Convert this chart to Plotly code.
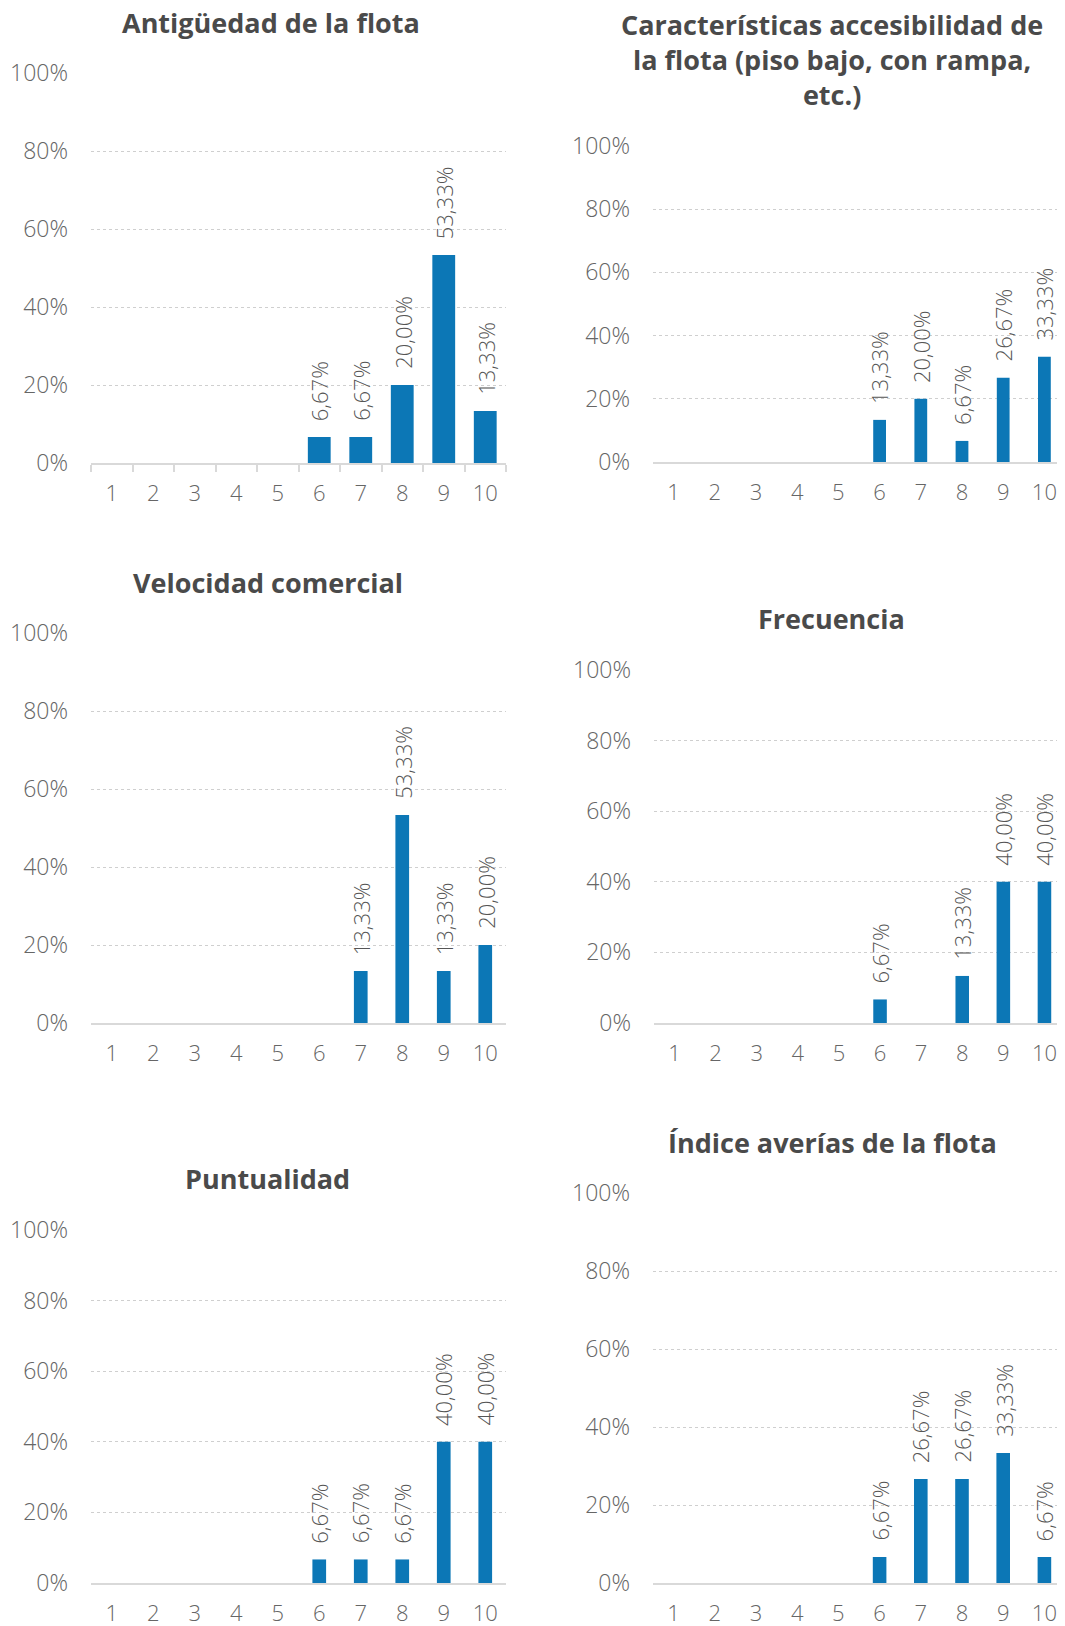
import plotly.graph_objects as go

# ---------------- data ----------------
categories = ["1", "2", "3", "4", "5", "6", "7", "8", "9", "10"]
antiguedad = [0, 0, 0, 0, 0, 6.67, 6.67, 20.00, 53.33, 13.33]
accesibilidad = [0, 0, 0, 0, 0, 13.33, 20.00, 6.67, 26.67, 33.33]
velocidad = [0, 0, 0, 0, 0, 0, 13.33, 53.33, 13.33, 20.00]
frecuencia = [0, 0, 0, 0, 0, 6.67, 0, 13.33, 40.00, 40.00]
puntualidad = [0, 0, 0, 0, 0, 6.67, 6.67, 6.67, 40.00, 40.00]
averias = [0, 0, 0, 0, 0, 6.67, 26.67, 26.67, 33.33, 6.67]

titles = [
    "Antigüedad de la flota",
    "Características accesibilidad de<br>la flota (piso bajo, con rampa,<br>etc.)",
    "Velocidad comercial",
    "Frecuencia",
    "Puntualidad",
    "Índice averías de la flota",
]
series = [antiguedad, accesibilidad, velocidad, frecuencia, puntualidad, averias]
y_ticks = [0, 20, 40, 60, 80, 100]
y_ticklabels = ["0%", "20%", "40%", "60%", "80%", "100%"]

# ---------------- layout (pixel geometry, page coordinates) ----------------
PAGE_OFF = 8                      # default body margin of the page
W, H = 1065 - PAGE_OFF, 1626 - PAGE_OFF
# (x0, x1, y_top(100%), y_bottom(0%), title_x, title_y, bar_width, boundary_ticks)
geom = [
    (91, 506, 73, 463, 271, 22, 0.55, True),
    (653, 1065, 146, 462, 832, 59, 0.31, False),
    (91, 506, 633, 1023, 268, 582, 0.33, False),
    (654, 1065, 670, 1023, 831, 618, 0.33, False),
    (91, 506, 1230, 1583, 267, 1178, 0.33, False),
    (653, 1065, 1193, 1583, 832, 1142, 0.33, False),
]


def fx(px):
    return min(max((px - PAGE_OFF) / W, 0.0), 1.0)


def fy(py):
    return min(max(1 - (py - PAGE_OFF) / H, 0.0), 1.0)


BAR = "#0c77b6"
GRID = "#cfcfcf"
AXIS = "#d9d9d9"
TICK_TXT = "#666666"
LABEL_TXT = "#555555"
TITLE_TXT = "#4a4a4a"
FONT = "Open Sans"

fig = go.Figure()
annotations = []
layout_axes = {}

for i, (vals, title, g) in enumerate(zip(series, titles, geom), start=1):
    x0, x1, yt, yb, tx, ty, bw, bticks = g
    xa = "x" if i == 1 else f"x{i}"
    ya = "y" if i == 1 else f"y{i}"
    fig.add_trace(go.Bar(
        x=categories, y=vals, xaxis=xa, yaxis=ya,
        width=bw, marker=dict(color=BAR, line=dict(width=0)),
        hoverinfo="skip", showlegend=False,
    ))
    for k, v in enumerate(vals):
        if v > 0:
            annotations.append(dict(
                x=k, y=v, xref=xa, yref=ya,
                text=f"{v:.2f}%".replace(".", ","),
                textangle=-90, showarrow=False,
                xanchor="center", yanchor="bottom", yshift=14,
                font=dict(family=FONT, size=22, color=LABEL_TXT, weight=300),
            ))
    annotations.append(dict(
        x=fx(tx), y=fy(ty), xref="paper", yref="paper",
        text=f"<b>{title}</b>", showarrow=False,
        xanchor="center", yanchor="middle", align="center",
        font=dict(family=FONT, size=27, color=TITLE_TXT),
    ))
    xkey = "xaxis" if i == 1 else f"xaxis{i}"
    ykey = "yaxis" if i == 1 else f"yaxis{i}"
    layout_axes[xkey] = dict(
        domain=[fx(x0), fx(x1)], anchor=ya, automargin=False,
        type="category", showgrid=False, zeroline=False,
        showline=True, linecolor=AXIS, linewidth=2,
        ticks="outside" if bticks else "", tickson="boundaries",
        ticklen=7 if bticks else 0, tickcolor=AXIS, tickwidth=2,
        ticklabelstandoff=10,
        tickfont=dict(family=FONT, size=22, color=TICK_TXT, weight=300),
        fixedrange=True,
    )
    layout_axes[ykey] = dict(
        domain=[fy(yb), fy(yt)], anchor=xa, automargin=False,
        range=[0, 100], tickvals=y_ticks, ticktext=y_ticklabels,
        showgrid=True, gridcolor=GRID, griddash="dot", gridwidth=1,
        zeroline=False, showline=False, ticks="",
        ticklabelstandoff=22,
        tickfont=dict(family=FONT, size=23, color=TICK_TXT, weight=300),
        fixedrange=True,
    )

fig.update_layout(
    width=W, height=H,
    margin=dict(l=0, r=0, t=0, b=0, autoexpand=False),
    paper_bgcolor="white", plot_bgcolor="white",
    annotations=annotations,
    font=dict(family=FONT),
    **layout_axes,
)

fig.write_html("out.html")
